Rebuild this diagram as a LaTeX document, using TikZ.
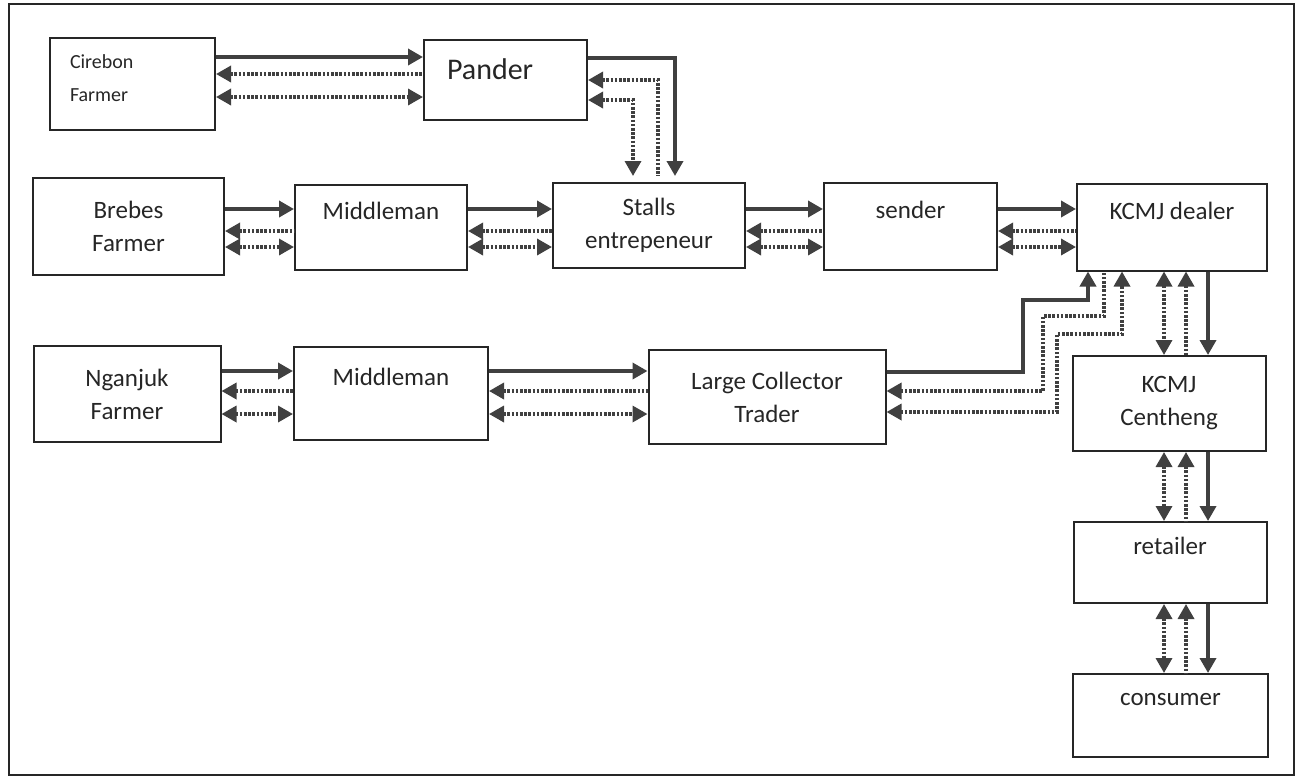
\documentclass[tikz,border=0pt]{standalone}
\usepackage{fontspec}
\setmainfont{Carlito}
\usetikzlibrary{arrows.meta}

\begin{document}
\begin{tikzpicture}[
    x=1pt, y=-1pt,
    >={Triangle[length=15pt,width=16pt]},
    box/.style={
        draw=black!85,
        line width=2pt,
        inner sep=0pt,
        align=center,
        text=black!85,
        font=\fontsize{25}{33}\selectfont
    },
    flow/.style={line width=3.6pt,draw=black!75},
    dots/.style={line width=3.4pt,draw=black!75,dash pattern=on 2.6pt off 1.6pt}
    ]
    
    \useasboundingbox (0,0) rectangle (1300,777);
    \draw[line width=2pt,black!85] (9,4) rectangle (1294,775);
    
    % top row
    \node[box,minimum width=165pt,minimum height=92pt,text width=125pt,inner xsep=20pt,align=left,
        font=\fontsize{20}{33}\selectfont] (cirebon) at (132.5,84) {Cirebon\\Farmer\\[-22pt]\mbox{}};
    \node[box,minimum width=163pt,minimum height=80pt,text width=117pt,inner xsep=23pt,align=left,
        font=\fontsize{30}{22}\selectfont] (pander) at (505.5,80) {Pander\\\mbox{}};
    
    % middle row
    \node[box,minimum width=191pt,minimum height=97pt] (brebes) at (128.5,226.5) {Brebes\\Farmer};
    \node[box,minimum width=172pt,minimum height=85pt] (midone) at (381,227.5) {Middleman\\\mbox{}};
    \node[box,minimum width=192pt,minimum height=85pt] (stalls) at (649,225.5) {Stalls\\entrepeneur};
    \node[box,minimum width=173pt,minimum height=87pt] (sender) at (910.5,226.5) {sender\\\mbox{}};
    \node[box,minimum width=190pt,minimum height=87pt] (dealer) at (1172,227) {KCMJ dealer\\\mbox{}};
    
    % lower row
    \node[box,minimum width=187pt,minimum height=96pt] (nganjuk) at (127,394) {Nganjuk\\Farmer};
    \node[box,minimum width=194pt,minimum height=93pt] (midtwo) at (391,393.5) {Middleman\\\mbox{}};
    \node[box,minimum width=237pt,minimum height=94pt] (lct) at (767,397) {Large Collector\\Trader};
    
    % right column
    \node[box,minimum width=193pt,minimum height=95pt] (centheng) at (1169,403.5) {KCMJ\\Centheng};
    \node[box,minimum width=193pt,minimum height=81pt] (retailer) at (1170,562.5) {retailer\\\mbox{}};
    \node[box,minimum width=195pt,minimum height=83pt] (consumer) at (1170.5,715.5) {consumer\\\mbox{}};
    
    % Cirebon -- Pander
    \draw[flow,->] (cirebon.east |- 0,57) -- (pander.west |- 0,57);
    \draw[dots,<-] (cirebon.east |- 0,74) -- (pander.west |- 0,74);
    \draw[dots,<->] (cirebon.east |- 0,97) -- (pander.west |- 0,97);
    
    % Pander -- Stalls
    \draw[flow,->] (pander.east |- 0,58) -| ([xshift=26pt,yshift=6pt]stalls.north);
    \draw[dots,<-] (pander.east |- 0,80) -| ([xshift=9pt,yshift=6pt]stalls.north);
    \draw[dots,<->] (pander.east |- 0,100) -| ([xshift=-16pt,yshift=6pt]stalls.north);
    
    % middle row links
    \foreach \a/\b in {brebes/midone,midone/stalls,stalls/sender,sender/dealer}{
        \draw[flow,->] (\a.east |- 0,209) -- (\b.west |- 0,209);
        \draw[dots,<-] (\a.east |- 0,231) -- (\b.west |- 0,231);
        \draw[dots,<->] (\a.east |- 0,247) -- (\b.west |- 0,247);
    }
    
    % lower row links
    \foreach \a/\b in {nganjuk/midtwo,midtwo/lct}{
        \draw[flow,->] (\a.east |- 0,371) -- (\b.west |- 0,371);
        \draw[dots,<-] (\a.east |- 0,391) -- (\b.west |- 0,391);
        \draw[dots,<->] (\a.east |- 0,414) -- (\b.west |- 0,414);
    }
    
    % Large Collector Trader -- KCMJ dealer
    \draw[flow,->] (lct.east |- 0,372) -| (1023,300) -| ([xshift=-84pt]dealer.south);
    \draw[dots,<-] (lct.east |- 0,391) -| (1043,316) -| ([xshift=-68pt]dealer.south);
    \draw[dots,<->] (lct.east |- 0,412) -| (1057,334) -| ([xshift=-50pt]dealer.south);
    
    % right column links
    \foreach \a/\b in {dealer/centheng,centheng/retailer,retailer/consumer}{
        \draw[dots,<->] (\a.south -| 1164,0) -- (\b.north -| 1164,0);
        \draw[dots,<-] (\a.south -| 1186,0) -- (\b.north -| 1186,0);
        \draw[flow,->] (\a.south -| 1208,0) -- (\b.north -| 1208,0);
    }
    
\end{tikzpicture}
\end{document}
